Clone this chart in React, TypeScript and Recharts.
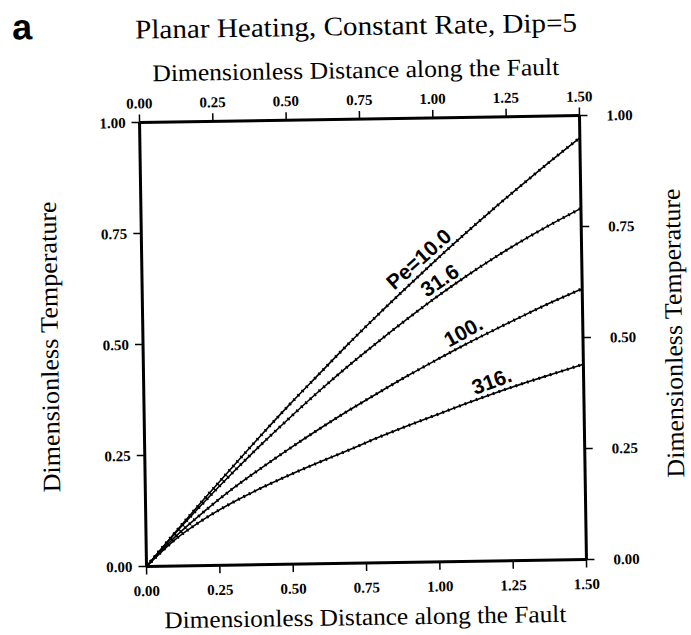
import React from 'react';
import { Line, LineChart, XAxis, YAxis } from 'recharts';

// distance along the fault (dimensionless)
const distance = [0, 0.1, 0.2, 0.3, 0.4, 0.5, 0.6, 0.7, 0.8, 0.9, 1.0, 1.1, 1.2, 1.3, 1.4, 1.5];

// dimensionless temperature for each Peclet number
const pe10 = [0, 0.076, 0.15, 0.222, 0.293, 0.362, 0.428, 0.494, 0.557, 0.618, 0.678, 0.736, 0.792, 0.846, 0.899, 0.95];
const pe31 = [0, 0.074, 0.143, 0.209, 0.272, 0.332, 0.39, 0.445, 0.497, 0.547, 0.595, 0.64, 0.682, 0.721, 0.757, 0.791];
const pe100 = [0, 0.066, 0.122, 0.173, 0.219, 0.263, 0.305, 0.345, 0.383, 0.42, 0.455, 0.489, 0.521, 0.552, 0.582, 0.61];
const pe316 = [0, 0.06, 0.105, 0.142, 0.174, 0.203, 0.23, 0.256, 0.283, 0.308, 0.332, 0.356, 0.379, 0.4, 0.42, 0.44];

const X_TICKS = [0, 0.25, 0.5, 0.75, 1, 1.25, 1.5];
const Y_TICKS = [0, 0.25, 0.5, 0.75, 1];

const SERIES = [
  { key: 'pe10', label: 'Pe=10.0', index: 10, angle: -41, shift: -11 },
  { key: 'pe31', label: '31.6', index: 10, angle: -33, shift: 13 },
  { key: 'pe100', label: '100.', index: 11, angle: -28, shift: 4 },
  { key: 'pe316', label: '316.', index: 12, angle: -19, shift: 0 },
];

const data = distance.map((x, i) => ({
  x,
  pe10: pe10[i],
  pe31: pe31[i],
  pe100: pe100[i],
  pe316: pe316[i],
}));

const serif = '"Liberation Serif", "Times New Roman", serif';
const tickStyle = { fontFamily: serif, fontSize: 15, fontWeight: 'bold', fill: '#000' };
const axisLine = { stroke: '#000', strokeWidth: 3 };
const tickLine = { stroke: '#000', strokeWidth: 1.5 };
const fmt = (v: number) => v.toFixed(2);

const curveLabel = (text: string, index: number, angle: number, shift: number) => (props: any) => {
  if (props.index !== index) return <g key={`l-${props.index}`} />;
  const { x, y } = props;
  return (
    <text
      key={`l-${index}`}
      x={x}
      y={y}
      dx={shift}
      dy={-5}
      transform={`rotate(${angle}, ${x}, ${y})`}
      textAnchor="middle"
      fontFamily='"Liberation Sans", Arial, sans-serif'
      fontWeight="bold"
      fontSize={21}
      fill="#000"
    >
      {text}
    </text>
  );
};

export default function App() {
  return (
    <div
      style={{
        position: 'absolute',
        left: 0,
        top: 0,
        width: 691,
        height: 635,
        background: '#fff',
        transform: 'rotate(-0.9deg)',
        transformOrigin: '362.5px 341px',
      }}
    >
      <LineChart width={691} height={635} data={data} margin={{ top: 79, right: 48, bottom: 32, left: 83 }}>
        <XAxis
          xAxisId="bottom"
          dataKey="x"
          type="number"
          domain={[0, 1.5]}
          ticks={X_TICKS}
          interval={0}
          tickFormatter={fmt}
          height={40}
          tickSize={8}
          tickMargin={11}
          axisLine={axisLine}
          tickLine={tickLine}
          tick={tickStyle}
        />
        <XAxis
          xAxisId="top"
          orientation="top"
          dataKey="x"
          type="number"
          domain={[0, 1.5]}
          ticks={X_TICKS}
          interval={0}
          tickFormatter={fmt}
          height={40}
          tickSize={8}
          tickMargin={6}
          axisLine={axisLine}
          tickLine={tickLine}
          tick={tickStyle}
        />
        <YAxis
          yAxisId="left"
          type="number"
          domain={[0, 1]}
          ticks={Y_TICKS}
          interval={0}
          tickFormatter={fmt}
          width={60}
          tickSize={8}
          tickMargin={6}
          axisLine={axisLine}
          tickLine={tickLine}
          tick={tickStyle}
        />
        <YAxis
          yAxisId="right"
          orientation="right"
          type="number"
          domain={[0, 1]}
          ticks={Y_TICKS}
          interval={0}
          tickFormatter={fmt}
          width={60}
          tickSize={8}
          tickMargin={19}
          axisLine={axisLine}
          tickLine={tickLine}
          tick={tickStyle}
        />
        {SERIES.map((s) => (
          <Line
            key={s.key}
            xAxisId="bottom"
            yAxisId="left"
            dataKey={s.key}
            type="monotone"
            stroke="#000"
            strokeWidth={1.6}
            dot={false}
            isAnimationActive={false}
            label={curveLabel(s.label, s.index, s.angle, s.shift)}
          />
        ))}
        {SERIES.map((s) => (
          <Line
            key={`${s.key}-dots`}
            xAxisId="top"
            yAxisId="right"
            dataKey={s.key}
            type="monotone"
            stroke="#000"
            strokeWidth={3.2}
            strokeDasharray="1.6 4.4"
            dot={false}
            isAnimationActive={false}
          />
        ))}
      </LineChart>
      <svg
        width={691}
        height={635}
        style={{ position: 'absolute', left: 0, top: 0, pointerEvents: 'none' }}
      >
        <text x={17} y={34} fontFamily='"Liberation Sans", Arial, sans-serif' fontWeight="bold" fontSize={36}>
          a
        </text>
        <text x={361} y={35} textAnchor="middle" fontFamily={serif} fontSize={27} textLength={442} lengthAdjust="spacingAndGlyphs">
          Planar Heating, Constant Rate, Dip=5
        </text>
        <text x={360} y={78} textAnchor="middle" fontFamily={serif} fontSize={24} textLength={407} lengthAdjust="spacingAndGlyphs">
          Dimensionless Distance along the Fault
        </text>
        <text x={361} y={625} textAnchor="middle" fontFamily={serif} fontSize={24} textLength={402} lengthAdjust="spacingAndGlyphs">
          Dimensionless Distance along the Fault
        </text>
        <text
          x={58}
          y={342}
          transform="rotate(-90, 58, 342)"
          textAnchor="middle"
          fontFamily={serif}
          fontSize={25}
          textLength={291}
          lengthAdjust="spacingAndGlyphs"
        >
          Dimensionless Temperature
        </text>
        <text
          x={682}
          y={338}
          transform="rotate(-90, 682, 338)"
          textAnchor="middle"
          fontFamily={serif}
          fontSize={25}
          textLength={289}
          lengthAdjust="spacingAndGlyphs"
        >
          Dimensionless Temperature
        </text>
      </svg>
    </div>
  );
}
